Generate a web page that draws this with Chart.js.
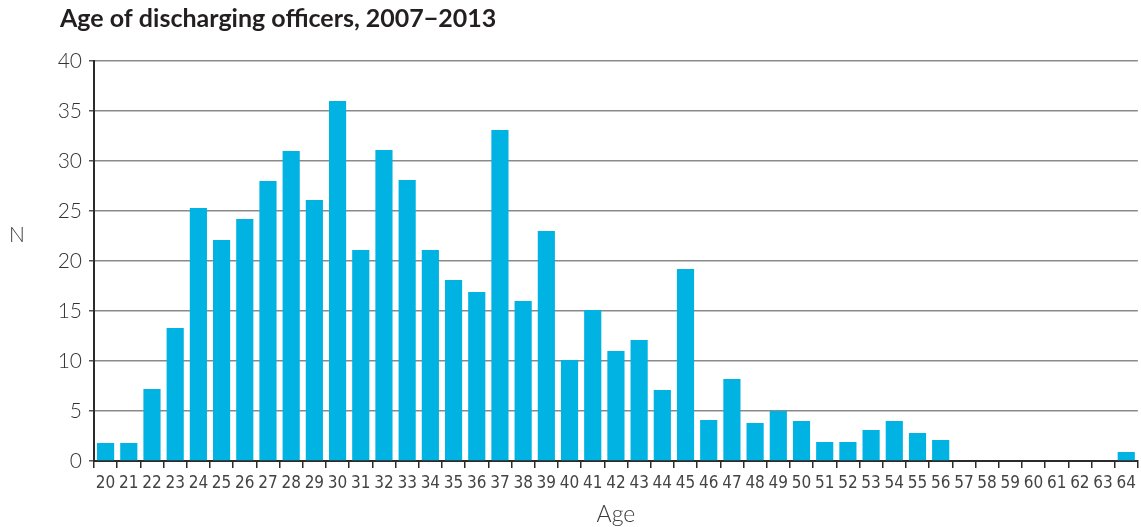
<!DOCTYPE html>
<html>
<head>
<meta charset="utf-8">
<script src="https://cdn.jsdelivr.net/npm/chart.js@4/dist/chart.umd.min.js"></script>
<style>
	html, body { margin: 0; padding: 0; background: #fff; }
	#wrap { width: 1141px; height: 527px; position: relative; }
</style>
</head>
<body>
<div id="wrap"><canvas id="ageChart" width="1141" height="527"></canvas></div>
<script>
// data
var ages = ['20','21','22','23','24','25','26','27','28','29','30','31','32','33','34','35','36','37','38','39','40','41','42',
	'43','44','45','46','47','48','49','50','51','52','53','54','55','56','57','58','59','60','61','62','63','64'];
var counts = [1.8, 1.8, 7.2, 13.3, 25.3, 22.1, 24.2, 28, 31, 26.1, 36, 21.1, 31.1, 28.1, 21.1, 18.1, 16.9, 33.1, 16, 23, 10.1,
	15.1, 11, 12.1, 7.1, 19.2, 4.1, 8.2, 3.8, 5, 4, 1.9, 1.9, 3.1, 4, 2.8, 2.1, 0, 0, 0, 0, 0, 0, 0, 0.9];
var titleText = 'Age of discharging officers, 2007\u22122013';
var yTitle = 'N';
var xTitle = 'Age';

var barColor = '#00b3e3';
var axisColor = '#2b2b2b';
var gridColor = '#8a8a8a';

// title and axis names drawn on the canvas
var labelsPlugin = {
	id: 'labels',
	afterDraw: function(chart) {
		var ctx = chart.ctx;
		var area = chart.chartArea;
		ctx.save();
		ctx.fillStyle = '#231f20';
		ctx.font = 'bold 25px Lato, "Open Sans", sans-serif';
		ctx.textAlign = 'left';
		ctx.textBaseline = 'alphabetic';
		ctx.fillText(titleText, 60, 27);

		ctx.fillStyle = '#3a3a3a';
		ctx.font = '300 21px Lato, "Open Sans", sans-serif';
		ctx.textAlign = 'center';
		ctx.textBaseline = 'middle';
		ctx.fillText(yTitle, 17, 235);

		ctx.font = '300 23px Lato, "Open Sans", sans-serif';
		ctx.fillText(xTitle, (area.left + area.right) / 2, 515);
		ctx.restore();
	}
};

new Chart(document.getElementById('ageChart').getContext('2d'), {
	type: 'bar',
	data: {
		labels: ages,
		datasets: [{
			label: 'N',
			data: counts,
			backgroundColor: barColor,
			borderWidth: 0,
			barPercentage: 0.74,
			categoryPercentage: 1
		}]
	},
	options: {
		responsive: false,
		animation: false,
		layout: { padding: { top: 61, right: 1, left: 0, bottom: 0 } },
		plugins: {
			legend: { display: false },
			tooltip: { enabled: false },
			title: { display: false }
		},
		scales: {
			x: {
				offset: true,
				grid: {
					offset: true,
					drawOnChartArea: false,
					drawTicks: true,
					tickLength: 7,
					color: axisColor,
					lineWidth: 1.5
				},
				border: { color: axisColor, width: 2 },
				ticks: {
					color: '#444',
					padding: 5,
					maxRotation: 0,
					autoSkip: false,
					font: { family: '"Liberation Sans Narrow", "DejaVu Sans Condensed", sans-serif', size: 17 }
				},
				afterFit: function(scale) { scale.height = 66; }
			},
			y: {
				min: 0,
				max: 40,
				ticks: {
					stepSize: 5,
					color: '#333',
					padding: 7,
					font: { family: 'Lato, "Open Sans", sans-serif', size: 21, weight: '300' }
				},
				grid: {
					color: gridColor,
					lineWidth: 1.5,
					drawTicks: true,
					tickLength: 5,
					tickColor: '#555'
				},
				border: { color: axisColor, width: 2 },
				afterFit: function(scale) { scale.width = 94; }
			}
		}
	},
	plugins: [labelsPlugin]
});
</script>
</body>
</html>
